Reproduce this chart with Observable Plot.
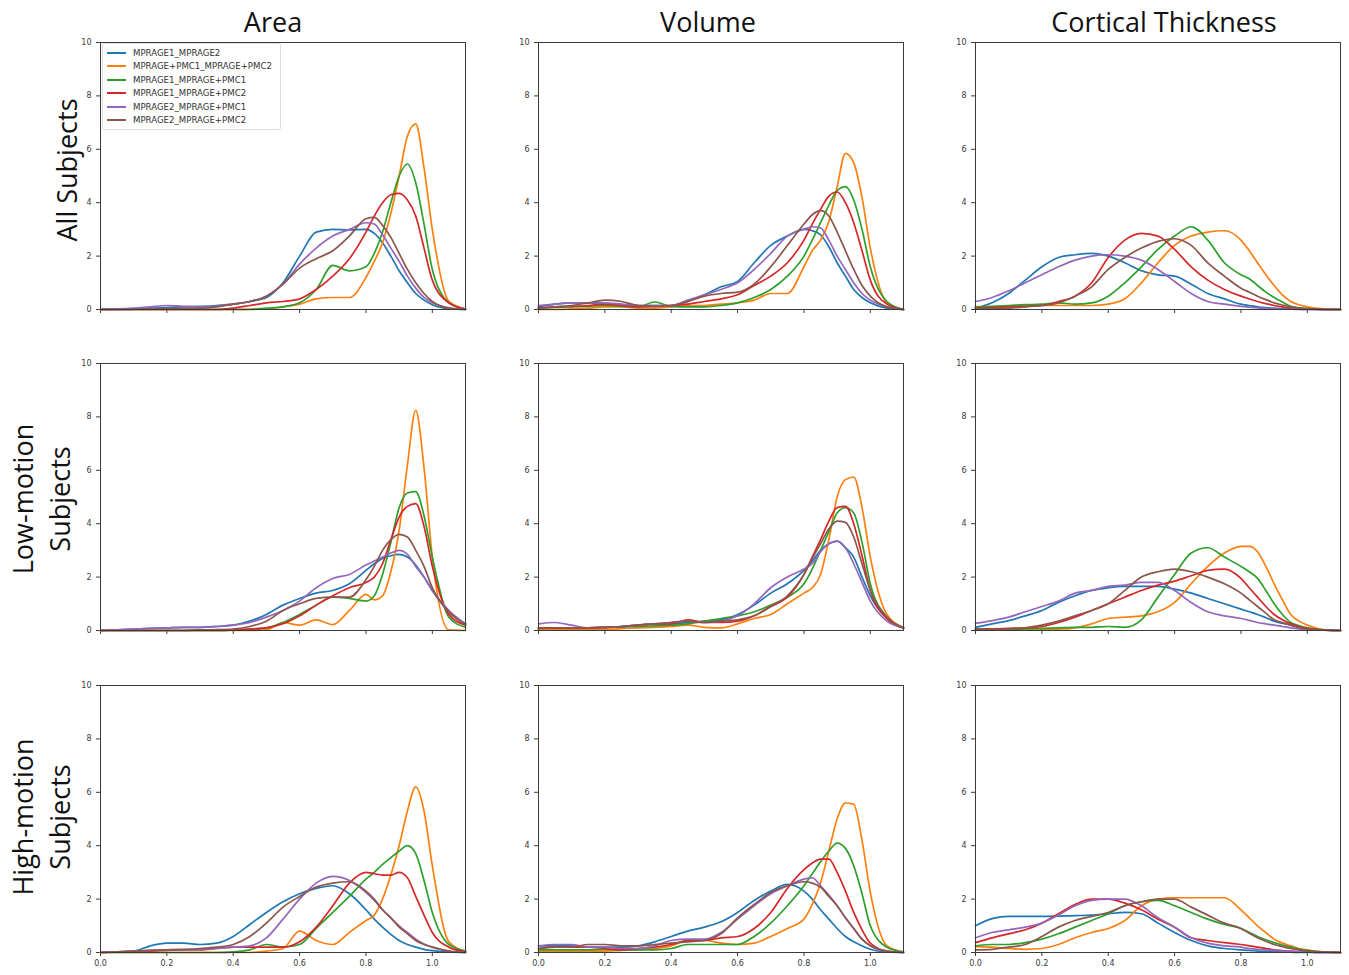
<!DOCTYPE html>
<html>
<head>
<meta charset="utf-8">
<script src="https://cdn.jsdelivr.net/npm/d3@7"></script>
<script src="https://cdn.jsdelivr.net/npm/@observablehq/plot@0.6"></script>
<style>
  html, body { margin: 0; padding: 0; background: #fff; }
  #root { position: relative; width: 1349px; height: 975px; overflow: hidden; background: #fff; }
  .panel { position: absolute; }
  .title { position: absolute; transform: translate(-50%, -50%); font-family: "Open Sans", sans-serif; font-size: 27px; line-height: 27px; color: #111; white-space: nowrap; }
  .rowlab { position: absolute; transform: translate(-50%, -50%) rotate(-90deg); font-family: "Open Sans", sans-serif; font-size: 27px; line-height: 37px; color: #111; white-space: pre; text-align: center; }
  .legend { position: absolute; left: 102px; top: 43px; border: 1px solid rgba(0,0,0,0.13); border-radius: 2px; background: rgba(255,255,255,0.85); padding: 2px 8px 2px 4px; }
  .legend .row { display: flex; align-items: center; height: 13.5px; }
  .legend .sw { width: 19px; height: 1.7px; margin-right: 7px; }
  .legend .lab { font-family: "DejaVu Sans", sans-serif; font-size: 8.6px; color: #333; white-space: nowrap; }
</style>
</head>
<body>
<div id="root"></div>
<script>
const xGrid = [0, 0.05, 0.1, 0.15, 0.2, 0.25, 0.3, 0.35, 0.4, 0.45, 0.5, 0.55, 0.6, 0.65, 0.7, 0.75, 0.8, 0.825, 0.85, 0.875, 0.9, 0.925, 0.95, 0.975, 1.0, 1.05, 1.1];
const seriesNames = ["MPRAGE1_MPRAGE2", "MPRAGE+PMC1_MPRAGE+PMC2", "MPRAGE1_MPRAGE+PMC1", "MPRAGE1_MPRAGE+PMC2", "MPRAGE2_MPRAGE+PMC1", "MPRAGE2_MPRAGE+PMC2"];
const seriesColors = ["#1f77b4", "#ff7f0e", "#2ca02c", "#d62728", "#9467bd", "#8c564b"];
const colTitles = ["Area", "Volume", "Cortical Thickness"];
const rowTitles = ["All Subjects", "Low-motion\nSubjects", "High-motion\nSubjects"];
const xTicks = [0, 0.2, 0.4, 0.6, 0.8, 1.0];
const yTicks = [0, 2, 4, 6, 8, 10];

// each panel: one row per series, in the order of seriesNames, values at xGrid
const areaAll = [
  [0,0.01,0.03,0.05,0.07,0.1,0.12,0.15,0.2,0.3,0.45,1.0,2.0,2.9,3.0,2.98,3.0,2.85,2.5,2.0,1.45,1.0,0.6,0.35,0.18,0.03,0],
  [0,0,0,0,0,0,0,0,0,0.01,0.02,0.1,0.2,0.4,0.45,0.45,1.2,1.8,2.5,3.6,5.0,6.5,6.95,5.3,3.0,0.3,0.02],
  [0,0,0,0,0,0,0,0,0,0,0.05,0.1,0.25,0.75,1.65,1.45,1.6,2.1,2.9,4.0,5.0,5.45,4.75,3.2,1.5,0.25,0.02],
  [0,0,0,0,0,0,0,0,0.05,0.15,0.25,0.3,0.4,0.75,1.25,1.9,2.9,3.5,4.0,4.3,4.35,4.1,3.5,2.3,1.1,0.25,0.02],
  [0,0.02,0.05,0.1,0.15,0.12,0.1,0.12,0.2,0.3,0.5,0.95,1.7,2.3,2.75,3.0,3.25,3.2,2.8,2.3,1.8,1.25,0.8,0.45,0.25,0.06,0],
  [0,0,0.01,0.02,0.03,0.04,0.05,0.1,0.2,0.3,0.5,0.95,1.55,1.9,2.2,2.75,3.4,3.45,3.15,2.7,2.1,1.5,1.0,0.6,0.3,0.05,0]
];
const volumeAll = [
  [0.1,0.2,0.25,0.25,0.2,0.18,0.15,0.15,0.15,0.3,0.55,0.85,1.05,1.75,2.4,2.75,3.0,2.95,2.8,2.35,1.75,1.25,0.75,0.45,0.25,0.05,0],
  [0,0,0.02,0.05,0.1,0.1,0.05,0.05,0.1,0.15,0.15,0.2,0.25,0.35,0.6,0.6,1.6,2.2,2.6,3.3,4.6,5.85,5.5,4.2,2.3,0.25,0.01],
  [0.05,0.08,0.1,0.12,0.15,0.12,0.1,0.28,0.12,0.1,0.1,0.15,0.25,0.45,0.75,1.25,2.0,2.6,3.25,3.9,4.45,4.6,4.1,3.0,1.6,0.3,0],
  [0.05,0.1,0.12,0.15,0.2,0.15,0.1,0.12,0.15,0.2,0.3,0.4,0.55,0.9,1.25,1.75,2.6,3.2,3.75,4.25,4.4,4.0,3.25,2.2,1.1,0.2,0],
  [0.15,0.2,0.25,0.25,0.25,0.2,0.15,0.15,0.15,0.35,0.55,0.75,1.0,1.5,2.1,2.75,3.0,3.1,3.05,2.6,2.0,1.5,1.0,0.6,0.35,0.1,0],
  [0.05,0.1,0.15,0.25,0.35,0.3,0.15,0.12,0.15,0.3,0.5,0.6,0.65,0.95,1.6,2.4,3.2,3.55,3.7,3.5,2.9,2.2,1.5,0.9,0.5,0.1,0]
];
const thickAll = [
  [0.05,0.25,0.6,1.1,1.6,1.95,2.05,2.1,2.0,1.75,1.45,1.3,1.25,0.95,0.6,0.4,0.2,0.15,0.1,0.07,0.05,0.03,0.02,0.01,0,0,0],
  [0.1,0.1,0.12,0.13,0.15,0.15,0.15,0.15,0.2,0.4,1.0,1.75,2.4,2.75,2.9,2.95,2.6,2.2,1.75,1.3,0.9,0.55,0.3,0.18,0.1,0.02,0],
  [0.1,0.12,0.15,0.18,0.2,0.25,0.2,0.25,0.5,1.0,1.6,2.25,2.75,3.1,2.6,1.75,1.3,1.15,0.9,0.65,0.45,0.28,0.12,0.06,0.03,0,0],
  [0.05,0.07,0.1,0.12,0.15,0.3,0.5,1.0,1.95,2.6,2.85,2.75,2.25,1.6,1.1,0.75,0.5,0.4,0.3,0.22,0.15,0.1,0.05,0.03,0.02,0,0],
  [0.3,0.45,0.7,1.0,1.3,1.6,1.85,2.0,2.05,2.0,1.85,1.5,1.05,0.6,0.3,0.2,0.12,0.09,0.06,0.04,0.02,0.01,0.01,0,0,0,0],
  [0.02,0.03,0.05,0.1,0.15,0.25,0.5,0.85,1.5,1.95,2.3,2.55,2.65,2.4,1.75,1.25,0.8,0.65,0.5,0.37,0.25,0.17,0.1,0.06,0.03,0,0]
];
const areaLow = [
  [0,0.02,0.05,0.08,0.1,0.12,0.12,0.15,0.2,0.35,0.6,0.95,1.2,1.4,1.5,1.75,2.25,2.5,2.7,2.8,2.85,2.75,2.45,2.0,1.5,0.7,0.25],
  [0,0,0,0,0,0,0,0,0,0,0.02,0.3,0.2,0.4,0.22,0.75,1.35,1.15,1.3,2.2,3.75,6.2,8.25,6.1,2.75,0.02,0],
  [0,0,0,0,0,0,0,0,0.02,0.05,0.1,0.3,0.6,0.95,1.25,1.2,1.1,1.3,2.1,3.3,4.6,5.15,5.2,4.3,2.75,0.5,0.12],
  [0,0,0,0,0,0,0,0,0.02,0.05,0.1,0.25,0.55,0.95,1.3,1.6,1.8,2.0,2.5,3.4,4.25,4.65,4.75,3.9,2.4,0.6,0.2],
  [0,0.02,0.05,0.08,0.1,0.12,0.12,0.15,0.2,0.3,0.5,0.75,1.1,1.6,1.95,2.1,2.45,2.6,2.75,2.9,3.0,2.85,2.4,2.0,1.5,0.75,0.25],
  [0,0,0,0,0,0,0.02,0.03,0.05,0.15,0.35,0.75,1.0,1.2,1.25,1.25,1.9,2.4,3.0,3.4,3.6,3.5,3.0,2.4,1.6,0.7,0.22]
];
const volumeLow = [
  [0.1,0.1,0.1,0.1,0.12,0.15,0.2,0.25,0.25,0.3,0.35,0.4,0.6,0.95,1.4,1.75,2.25,2.6,3.0,3.25,3.35,3.1,2.75,2.0,1.3,0.45,0.1],
  [0.05,0.05,0.05,0.05,0.05,0.07,0.1,0.12,0.15,0.2,0.12,0.1,0.25,0.45,0.6,1.0,1.4,1.6,2.1,3.4,5.0,5.65,5.75,4.6,2.75,0.6,0.12],
  [0.1,0.1,0.1,0.1,0.12,0.13,0.15,0.17,0.2,0.25,0.35,0.45,0.55,0.7,0.95,1.25,1.75,2.3,3.0,3.7,4.4,4.6,4.4,3.3,1.75,0.5,0.1],
  [0.1,0.1,0.1,0.1,0.12,0.15,0.2,0.25,0.25,0.4,0.3,0.3,0.35,0.55,0.9,1.25,2.1,2.75,3.4,4.1,4.6,4.65,4.0,2.8,1.5,0.45,0.1],
  [0.25,0.3,0.2,0.1,0.12,0.15,0.2,0.25,0.3,0.35,0.3,0.35,0.55,1.0,1.6,2.0,2.3,2.5,2.95,3.25,3.35,3.1,2.5,1.8,1.1,0.35,0.1],
  [0.08,0.1,0.1,0.1,0.12,0.15,0.2,0.25,0.3,0.35,0.3,0.35,0.4,0.55,0.9,1.3,2.1,2.7,3.25,3.8,4.1,4.05,3.5,2.5,1.5,0.5,0.1]
];
const thickLow = [
  [0.12,0.25,0.37,0.55,0.75,1.05,1.3,1.5,1.6,1.65,1.65,1.65,1.55,1.4,1.2,1.0,0.8,0.7,0.6,0.48,0.35,0.27,0.2,0.12,0.05,0.01,0],
  [0.02,0.02,0.02,0.02,0.03,0.05,0.1,0.25,0.45,0.5,0.55,0.7,1.05,1.75,2.4,2.9,3.15,3.15,2.95,2.4,1.75,1.15,0.6,0.35,0.2,0.03,0],
  [0.05,0.05,0.05,0.06,0.08,0.1,0.12,0.12,0.15,0.12,0.4,1.25,2.1,2.9,3.1,2.75,2.4,2.2,1.95,1.5,1.0,0.6,0.3,0.18,0.1,0.02,0],
  [0.05,0.06,0.08,0.1,0.15,0.3,0.5,0.75,1.0,1.25,1.5,1.7,1.85,2.05,2.25,2.3,1.95,1.6,1.25,0.9,0.6,0.4,0.25,0.15,0.08,0.02,0],
  [0.27,0.37,0.5,0.7,0.9,1.1,1.4,1.5,1.65,1.7,1.8,1.8,1.5,1.05,0.7,0.55,0.45,0.38,0.3,0.25,0.2,0.15,0.1,0.06,0.03,0.01,0],
  [0.05,0.05,0.06,0.1,0.2,0.35,0.55,0.75,1.0,1.5,2.0,2.2,2.3,2.2,2.0,1.75,1.4,1.15,0.9,0.65,0.4,0.3,0.2,0.12,0.06,0.01,0]
];
const areaHigh = [
  [0,0.02,0.05,0.25,0.35,0.35,0.3,0.35,0.6,1.05,1.5,1.9,2.2,2.4,2.5,2.2,1.6,1.25,0.95,0.68,0.45,0.3,0.2,0.12,0.07,0.02,0],
  [0,0,0,0,0,0,0,0,0,0,0.05,0.15,0.8,0.45,0.3,0.75,1.2,1.4,2.0,2.9,4.0,5.3,6.2,5.3,3.25,0.4,0.05],
  [0,0,0,0,0,0,0,0,0.02,0.1,0.3,0.2,0.3,0.9,1.5,2.1,2.75,3.0,3.3,3.55,3.8,4.0,3.7,2.7,1.5,0.3,0.05],
  [0,0.01,0.03,0.05,0.08,0.1,0.1,0.15,0.2,0.2,0.2,0.2,0.4,0.95,1.75,2.6,3.0,2.95,2.9,2.9,3.0,2.8,2.1,1.4,0.75,0.2,0.03],
  [0,0.02,0.05,0.08,0.1,0.1,0.12,0.15,0.2,0.25,0.55,1.25,2.0,2.6,2.85,2.7,2.25,1.95,1.6,1.3,1.0,0.75,0.5,0.32,0.2,0.05,0],
  [0,0.02,0.05,0.08,0.1,0.12,0.15,0.2,0.3,0.6,1.1,1.7,2.1,2.45,2.6,2.65,2.3,2.0,1.6,1.3,0.95,0.7,0.45,0.3,0.2,0.05,0]
];
const volumeHigh = [
  [0.25,0.25,0.25,0.2,0.2,0.2,0.25,0.4,0.6,0.8,0.95,1.15,1.5,1.95,2.3,2.55,2.3,2.0,1.6,1.25,0.9,0.6,0.4,0.25,0.12,0.02,0],
  [0.05,0.05,0.05,0.05,0.05,0.08,0.1,0.15,0.25,0.45,0.45,0.35,0.3,0.35,0.6,0.9,1.25,1.8,2.6,3.8,5.0,5.6,5.55,4.2,2.25,0.25,0.02],
  [0.1,0.1,0.1,0.1,0.12,0.1,0.1,0.1,0.15,0.3,0.3,0.3,0.3,0.6,1.1,1.75,2.5,2.95,3.4,3.8,4.1,3.9,3.25,2.2,1.0,0.2,0.02],
  [0.15,0.2,0.2,0.2,0.15,0.1,0.15,0.2,0.3,0.45,0.45,0.55,0.6,0.9,1.5,2.4,3.1,3.35,3.5,3.5,3.0,2.3,1.5,0.85,0.35,0.05,0],
  [0.25,0.3,0.3,0.2,0.2,0.15,0.15,0.25,0.45,0.5,0.5,0.75,1.25,1.75,2.2,2.5,2.75,2.8,2.5,2.15,1.75,1.3,0.9,0.5,0.25,0.05,0],
  [0.15,0.2,0.2,0.3,0.3,0.25,0.25,0.3,0.35,0.4,0.45,0.7,1.3,1.8,2.25,2.5,2.65,2.6,2.45,2.1,1.75,1.3,0.9,0.5,0.25,0.05,0]
];
const thickHigh = [
  [1.0,1.27,1.35,1.35,1.35,1.36,1.38,1.4,1.45,1.5,1.45,1.1,0.75,0.45,0.25,0.15,0.1,0.08,0.05,0.04,0.03,0.02,0.01,0,0,0,0],
  [0.22,0.2,0.15,0.12,0.15,0.3,0.55,0.75,0.9,1.2,1.75,2.0,2.05,2.05,2.05,2.05,1.6,1.3,1.0,0.75,0.5,0.35,0.25,0.15,0.1,0.02,0],
  [0.25,0.3,0.3,0.37,0.5,0.7,0.95,1.2,1.45,1.75,1.9,1.95,1.75,1.5,1.25,1.05,0.9,0.75,0.6,0.48,0.37,0.28,0.2,0.13,0.08,0.02,0],
  [0.37,0.55,0.7,0.85,1.1,1.45,1.8,2.0,2.0,1.85,1.6,1.25,0.95,0.55,0.45,0.37,0.3,0.25,0.2,0.15,0.1,0.07,0.05,0.03,0.02,0,0],
  [0.55,0.75,0.85,0.95,1.1,1.4,1.75,1.95,2.0,2.0,1.75,1.3,0.95,0.55,0.35,0.25,0.2,0.15,0.12,0.1,0.08,0.06,0.04,0.03,0.02,0,0],
  [0.1,0.12,0.2,0.3,0.6,0.95,1.2,1.35,1.5,1.75,1.9,2.0,2.0,1.7,1.4,1.1,0.9,0.72,0.55,0.42,0.3,0.22,0.15,0.1,0.05,0.02,0]
];

const panels = [
  [areaAll, volumeAll, thickAll],
  [areaLow, volumeLow, thickLow],
  [areaHigh, volumeHigh, thickHigh]
];

// layout (pixel geometry of the figure)
const colLeft = [100, 538, 975];
const rowTop = [41.5, 362.5, 684.5];
const PW = 365, PH = 267;
const ML = 34, MR = 6, MT = 6, MB = 24;

const root = document.getElementById("root");

function tidy(vals) {
  const rows = [];
  vals.forEach((ys, s) => ys.forEach((y, i) => rows.push({x: xGrid[i], y, series: seriesNames[s]})));
  return rows;
}

panels.forEach((rowPanels, r) => {
  rowPanels.forEach((vals, c) => {
    const chart = Plot.plot({
      width: PW + ML + MR,
      height: PH + MT + MB,
      marginLeft: ML, marginRight: MR, marginTop: MT, marginBottom: MB,
      style: {fontFamily: "'DejaVu Sans', sans-serif", fontSize: "8px", color: "#3a3a3a", background: "transparent", overflow: "visible"},
      x: {domain: [0, 1.1], label: null},
      y: {domain: [0, 10], label: null},
      color: {domain: seriesNames, range: seriesColors},
      marks: [
        Plot.axisY(yTicks, {tickSize: 4, tickPadding: 5, label: null, fontSize: 8}),
        Plot.axisX(xTicks, {tickSize: 4, tickPadding: 4, label: null, fontSize: 8,
          tickFormat: r === 2 ? d3.format(".1f") : () => ""}),
        Plot.line(tidy(vals), {x: "x", y: "y", z: "series", stroke: "series", strokeWidth: 1.7, curve: "monotone-x"}),
        Plot.frame({stroke: "#3a3a3a", strokeWidth: 1})
      ]
    });
    const holder = document.createElement("div");
    holder.className = "panel";
    holder.style.left = (colLeft[c] - ML) + "px";
    holder.style.top = (rowTop[r] - MT) + "px";
    holder.appendChild(chart);
    root.appendChild(holder);
  });
});

// column titles
const titleX = [273, 708, 1164];
colTitles.forEach((t, i) => {
  const d = document.createElement("div");
  d.className = "title";
  d.textContent = t;
  d.style.left = titleX[i] + "px";
  d.style.top = "21px";
  root.appendChild(d);
});

// row titles
const rowLabX = [66, 41, 41];
const rowLabY = [170, 499, 817];
rowTitles.forEach((t, i) => {
  const d = document.createElement("div");
  d.className = "rowlab";
  d.textContent = t;
  d.style.left = rowLabX[i] + "px";
  d.style.top = rowLabY[i] + "px";
  root.appendChild(d);
});

// legend in the first panel
const leg = document.createElement("div");
leg.className = "legend";
seriesNames.forEach((n, i) => {
  const row = document.createElement("div");
  row.className = "row";
  const sw = document.createElement("div");
  sw.className = "sw";
  sw.style.background = seriesColors[i];
  const lab = document.createElement("div");
  lab.className = "lab";
  lab.textContent = n;
  row.appendChild(sw);
  row.appendChild(lab);
  leg.appendChild(row);
});
root.appendChild(leg);
</script>
</body>
</html>
